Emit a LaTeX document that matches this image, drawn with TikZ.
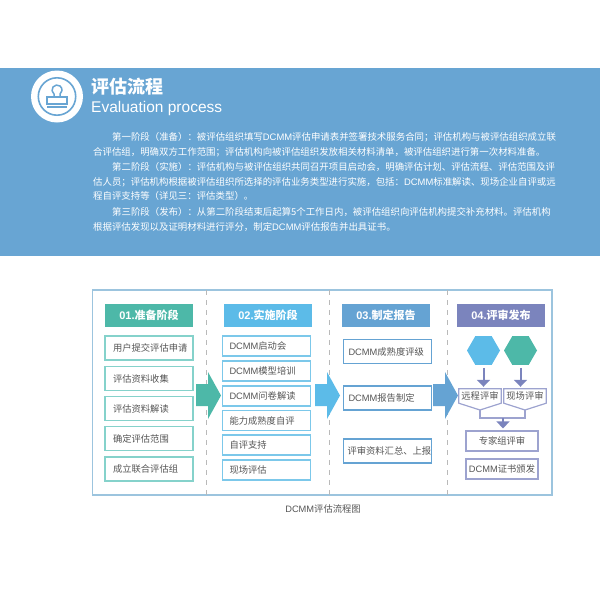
\documentclass[tikz,border=0pt]{standalone}
\usepackage{fontspec}
\setmainfont{Noto Sans CJK SC}
\newfontfamily\latinfont{Liberation Sans}
\newcommand{\dcmm}{{\latinfont DCMM}}
\usetikzlibrary{arrows.meta,shapes.geometric}
\definecolor{bannerblue}{HTML}{68A5D3}
\definecolor{frameblue}{HTML}{9CC4DE}
\definecolor{tealgreen}{HTML}{4DB8A8}
\definecolor{tealline}{HTML}{85D2CB}
\definecolor{skyblue}{HTML}{5CBBE8}
\definecolor{skyline}{HTML}{7CC8EA}
\definecolor{midblue}{HTML}{65A3D3}
\definecolor{violetblue}{HTML}{7B84BD}
\definecolor{violetline}{HTML}{9DA3CF}
\definecolor{darktext}{HTML}{555555}
\tikzset{
	bodyline/.style={anchor=west,inner sep=0pt,text=white,font=\fontsize{9.42}{10}\selectfont},
	headbox/.style={minimum width=88pt,minimum height=23pt,inner sep=0pt,text=white,font=\fontsize{11}{12}\selectfont\bfseries},
	stepbox/.style 2 args={draw=#2,line width=1.2pt,fill=white,inner ysep=0pt,inner xsep=#1,text width=88pt-2*#1,align=left,text=darktext,font=\fontsize{9.3}{10}\selectfont},
	smallbox/.style={inner sep=0pt,text=darktext,font=\fontsize{9.3}{10}\selectfont},
	downarrow/.style={violetblue,line width=2pt,-{Triangle[width=13pt,length=7pt]},shorten >=2pt},
	hexa/.style={regular polygon,regular polygon sides=6,minimum size=33pt,inner sep=0pt},
	stagedash/.style={gray!55,dash pattern=on 5pt off 5pt}
}
\begin{document}
\begin{tikzpicture}[x=1pt,y=-1pt]
	\useasboundingbox (0,0) rectangle (600,600);
	% banner
	\fill[bannerblue] (0,68) rectangle (600,256);
	\fill[white] (57,96.5) circle (26);
	\draw[bannerblue,line width=1.6pt] (57,96.5) circle (18.7);
	\draw[bannerblue,line width=1.5pt] (54,97) -- (54,94) arc (127:413:5) -- (60,97);
	\draw[bannerblue,line width=1.5pt] (47,97) rectangle (67,104);
	\draw[bannerblue,line width=1.5pt] (47,107) -- (67,107);
	\node[anchor=west,inner sep=0pt,text=white,font=\fontsize{18}{20}\selectfont\bfseries] (title) at (91,87) {评估流程};
	\node[anchor=west,inner sep=0pt,text=white,font=\fontsize{15.5}{20}\latinfont] (subtitle) at (91,108) {Evaluation process};
	\node[bodyline] (lineA) at (112,137) {第一阶段（准备）：被评估组织填写\dcmm{}评估申请表并签署技术服务合同；评估机构与被评估组织成立联};
	\node[bodyline] (lineB) at (93,152) {合评估组，明确双方工作范围；评估机构向被评估组织发放相关材料清单，被评估组织进行第一次材料准备。};
	\node[bodyline] (lineC) at (112,167) {第二阶段（实施）：评估机构与被评估组织共同召开项目启动会，明确评估计划、评估流程、评估范围及评};
	\node[bodyline] (lineD) at (93,182) {估人员；评估机构根据被评估组织所选择的评估业务类型进行实施，包括：\dcmm{}标准解读、现场企业自评或远};
	\node[bodyline] (lineE) at (93,196) {程自评支持等（详见三：评估类型）。};
	\node[bodyline] (lineF) at (112,212) {第三阶段（发布）：从第二阶段结束后起算5个工作日内，被评估组织向评估机构提交补充材料。评估机构};
	\node[bodyline] (lineG) at (93,227) {根据评估发现以及证明材料进行评分，制定\dcmm{}评估报告并出具证书。};
	% frame
	\draw[frameblue,line width=1.2pt] (92.5,290) rectangle (552,495);
	\draw[stagedash] (206,290) -- (206,495);
	\draw[stagedash] (329,290) -- (329,495);
	\draw[stagedash] (447,290) -- (447,495);
	% headers
	\node[headbox,fill=tealgreen] (headA) at (149,315.5) {{\latinfont 01.}准备阶段};
	\node[headbox,fill=skyblue] (headB) at (268,315.5) {{\latinfont 02.}实施阶段};
	\node[headbox,fill=midblue] (headC) at (386,315.5) {{\latinfont 03.}制定报告};
	\node[headbox,fill=violetblue] (headD) at (501,315.5) {{\latinfont 04.}评审发布};
	% first column
	\node[stepbox={8pt}{tealline},minimum height=24pt] (prepA) at (149,348) {用户提交评估申请};
	\node[stepbox={8pt}{tealline},minimum height=24pt] (prepB) at (149,378.5) {评估资料收集};
	\node[stepbox={8pt}{tealline},minimum height=24pt] (prepC) at (149,408.5) {评估资料解读};
	\node[stepbox={8pt}{tealline},minimum height=24pt] (prepD) at (149,438.5) {确定评估范围};
	\node[stepbox={8pt}{tealline},minimum height=24pt] (prepE) at (149,469) {成立联合评估组};
	% second column
	\node[stepbox={7pt}{skyline},minimum height=20pt] (implA) at (266.5,346) {\dcmm{}启动会};
	\node[stepbox={7pt}{skyline},minimum height=20pt] (implB) at (266.5,371) {\dcmm{}模型培训};
	\node[stepbox={7pt}{skyline},minimum height=20pt] (implC) at (266.5,396) {\dcmm{}问卷解读};
	\node[stepbox={7pt}{skyline},minimum height=20pt] (implD) at (266.5,420.5) {能力成熟度自评};
	\node[stepbox={7pt}{skyline},minimum height=20pt] (implE) at (266.5,445) {自评支持};
	\node[stepbox={7pt}{skyline},minimum height=20pt] (implF) at (266.5,470) {现场评估};
	% third column
	\node[stepbox={5pt}{midblue},minimum height=24pt] (repA) at (387.5,351.5) {\dcmm{}成熟度评级};
	\node[stepbox={5pt}{midblue},minimum height=24pt] (repB) at (387.5,398) {\dcmm{}报告制定};
	\node[stepbox={4pt}{midblue},minimum height=24pt] (repC) at (387.5,451) {评审资料汇总、上报};
	% block arrows
	\fill[tealgreen] (196,384) -- (208,384) -- (208,372) -- (221,395.5) -- (208,419) -- (208,406) -- (196,406) -- cycle;
	\fill[skyblue] (315,384) -- (327,384) -- (327,372) -- (340,395.5) -- (327,419) -- (327,406) -- (315,406) -- cycle;
	\fill[midblue] (433,384) -- (445,384) -- (445,372) -- (458,395.5) -- (445,419) -- (445,406) -- (433,406) -- cycle;
	% fourth column
	\node[hexa,fill=skyblue] (hexaA) at (483.5,350.5) {};
	\node[hexa,fill=tealgreen] (hexaB) at (520.5,350.5) {};
	\node[smallbox,minimum width=42pt,minimum height=14pt] (remote) at (480,396) {远程评审};
	\node[smallbox,minimum width=42pt,minimum height=14pt] (onsite) at (525,396) {现场评审};
	\coordinate (remotetip) at (480,410);
	\coordinate (onsitetip) at (525,410);
	\draw[violetline,line width=1.2pt] (remote.north west) -- (remote.north east) -- (remote.south east) -- (remotetip) -- (remote.south west) -- cycle;
	\draw[violetline,line width=1.2pt] (onsite.north west) -- (onsite.north east) -- (onsite.south east) -- (onsitetip) -- (onsite.south west) -- cycle;
	\node[smallbox,draw=violetline,line width=1.2pt,minimum width=72pt,minimum height=20pt] (expert) at (502,441) {专家组评审};
	\node[smallbox,draw=violetline,line width=1.2pt,minimum width=72pt,minimum height=20pt] (cert) at (502,469) {\dcmm{}证书颁发};
	\draw[downarrow,shorten <=3pt] (hexaA.south) -- (hexaA.south |- remote.north);
	\draw[downarrow,shorten <=3pt] (hexaB.south) -- (hexaB.south |- onsite.north);
	\draw[violetline,line width=1.2pt] (remotetip) -- ++(0,8) -| (onsitetip);
	\coordinate (merge) at (503,418);
	\draw[downarrow] (merge) -- (merge |- expert.north);
	\node[text=darktext,inner sep=0pt,font=\fontsize{9.3}{10}\selectfont] (caption) at (323,509) {\dcmm{}评估流程图};
\end{tikzpicture}
\end{document}
